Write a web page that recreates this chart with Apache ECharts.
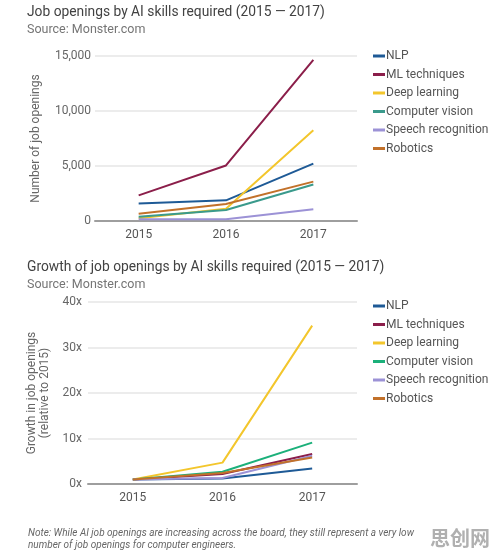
<!DOCTYPE html>
<html><head><meta charset="utf-8">
<script src="https://cdn.jsdelivr.net/npm/echarts@6/dist/echarts.min.js"></script>
<style>html,body{margin:0;padding:0;background:#fff}#c{width:496px;height:558px}</style>
</head><body><div id="c"></div>
<script>
const years = ['2015', '2016', '2017'];
const seriesNames = ['NLP', 'ML techniques', 'Deep learning', 'Computer vision', 'Speech recognition', 'Robotics'];
// Number of job openings
const nlpJobs = [1600, 1880, 5220];
const mlJobs = [2330, 5050, 14650];
const dlJobs = [240, 1120, 8250];
const cvJobs = [380, 1000, 3320];
const speechJobs = [170, 160, 1060];
const roboticsJobs = [660, 1550, 3580];
// Growth relative to 2015
const nlpGrowth = [1, 1.2, 3.4];
const mlGrowth = [1, 2.2, 6.6];
const dlGrowth = [1, 4.7, 34.8];
const cvGrowth = [1, 2.7, 9.1];
const speechGrowth = [1, 1.3, 6.2];
const roboticsGrowth = [1, 2.4, 5.8];
const topTicks = [0, 5000, 10000, 15000];
const bottomTicks = ['0x', '10x', '20x', '30x', '40x'];

const colorsTop = ['#1e5a96', '#8b1e4a', '#f3c62c', '#3a9a8c', '#9c92d6', '#c2712a'];
const colorsBottom = ['#1e5a96', '#8b1e4a', '#f3c62c', '#1bb07a', '#9c92d6', '#c2712a'];
const topData = [nlpJobs, mlJobs, dlJobs, cvJobs, speechJobs, roboticsJobs];
const bottomData = [nlpGrowth, mlGrowth, dlGrowth, cvGrowth, speechGrowth, roboticsGrowth];

const font = 'Roboto, "Noto Sans", sans-serif';
const chart = echarts.init(document.getElementById('c'), null, {renderer: 'canvas'});

function xAxis(gi) {
  return {
    type: 'category', gridIndex: gi, data: years, boundaryGap: true,
    axisLine: {show: true, lineStyle: {color: '#9e9e9e', width: 2}},
    axisTick: {show: false},
    axisLabel: {color: '#555', fontSize: 12, fontFamily: font, margin: 8}
  };
}
const series = [];
seriesNames.forEach((n, i) => {
  series.push({name: n, type: 'line', xAxisIndex: 0, yAxisIndex: 0, data: topData[i],
    symbol: 'none', lineStyle: {width: 2, color: colorsTop[i]}, itemStyle: {color: colorsTop[i]}, z: 3});
});
seriesNames.forEach((n, i) => {
  series.push({name: n + ' ', type: 'line', xAxisIndex: 1, yAxisIndex: 1, data: bottomData[i],
    symbol: 'none', lineStyle: {width: 2, color: colorsBottom[i]}, itemStyle: {color: colorsBottom[i]}, z: 3});
});
function legend(top, names, colors) {
  return {
    orient: 'vertical', left: 368, top: top, itemWidth: 12, itemHeight: 3, itemGap: 4.5,
    icon: 'rect',
    data: names.map((n, i) => ({name: n, itemStyle: {color: colors[i]}})),
    textStyle: {color: '#555', fontSize: 12, fontFamily: font, lineHeight: 14, padding: [0, 0, 0, -4]},
    selectedMode: false
  };
}
chart.setOption({
  animation: false,
  title: [
    {text: 'Job openings by AI skills required (2015 — 2017)', subtext: 'Source: Monster.com',
     left: 22, top: 1, itemGap: 3,
     textStyle: {fontSize: 13.8, fontWeight: 'normal', color: '#424242', fontFamily: font},
     subtextStyle: {fontSize: 12.5, color: '#757575', fontFamily: font}},
    {text: 'Growth of job openings by AI skills required (2015 — 2017)', subtext: 'Source: Monster.com',
     left: 22, top: 256, itemGap: 3,
     textStyle: {fontSize: 13.8, fontWeight: 'normal', color: '#424242', fontFamily: font},
     subtextStyle: {fontSize: 12.5, color: '#757575', fontFamily: font}}
  ],
  legend: [
    legend(44, seriesNames, colorsTop),
    legend(294, seriesNames.map(n => n + ' '), colorsBottom)
  ],
  grid: [
    {left: 95, right: 139, top: 56, height: 165},
    {left: 88, right: 139, top: 302, height: 182}
  ],
  xAxis: [xAxis(0), xAxis(1)],
  yAxis: [
    {type: 'value', gridIndex: 0, min: topTicks[0], max: topTicks[topTicks.length - 1], interval: 5000,
     name: 'Number of job openings', nameLocation: 'middle', nameGap: 53,
     nameTextStyle: {color: '#666', fontSize: 12, fontFamily: font},
     axisLine: {show: false}, axisTick: {show: false},
     axisLabel: {color: '#666', fontSize: 12, fontFamily: font, margin: 4,
       formatter: v => v.toLocaleString('en-US')},
     splitLine: {lineStyle: {color: '#e6e6e6', width: 1.5}}},
    {type: 'value', gridIndex: 1, min: 0, max: 40, interval: 10,
     name: 'Growth in job openings\n(relative to 2015)', nameLocation: 'middle', nameGap: 36,
     nameTextStyle: {color: '#666', fontSize: 12, fontFamily: font, lineHeight: 13},
     axisLine: {show: false}, axisTick: {show: false},
     axisLabel: {color: '#666', fontSize: 12, fontFamily: font, margin: 6,
       formatter: v => bottomTicks[Math.round(v / 10)]},
     splitLine: {lineStyle: {color: '#e6e6e6', width: 1.5}}}
  ],
  graphic: [
    {type: 'text', left: 28, top: 527, style: {
      text: 'Note: While AI job openings are increasing across the board, they still represent a very low\nnumber of job openings for computer engineers.',
      font: 'italic 10px Roboto, sans-serif', fill: '#666', lineHeight: 12}},
    {type: 'text', left: 430, top: 528, style: {
      text: '思创网', font: 'bold 20px "Noto Sans CJK SC"', fill: '#b0b0b0'}}
  ],
  series: series
});
</script></body></html>
